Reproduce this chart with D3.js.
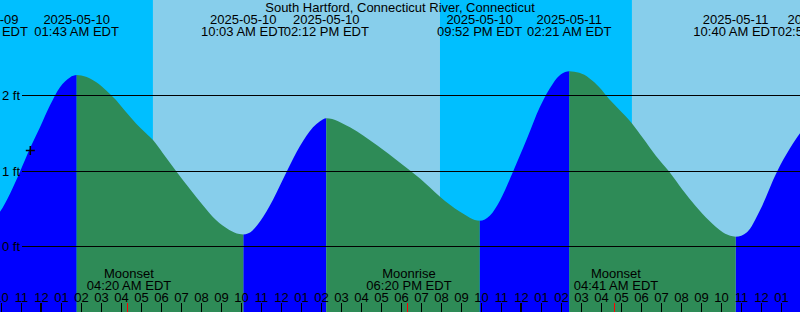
<!DOCTYPE html>
<html><head><meta charset="utf-8">
<script src="https://cdn.jsdelivr.net/npm/d3@7"></script>
<style>
html,body{margin:0;padding:0;background:#fff;overflow:hidden}
svg{display:block;font-family:"Liberation Sans",Arial,sans-serif}
</style>
</head><body><div id="chart"></div>
<script>
// ---------------- data ----------------
const title = "South Hartford, Connecticut River, Connecticut";
const baseTime = "2025-05-10 00:00";           // reference for sampleHours
const viewStartHours = -2.115, viewEndHours = 37.885;

const eventTimes   = ["2025-05-09 21:09","2025-05-10 01:43","2025-05-10 10:03","2025-05-10 14:12",
                      "2025-05-10 21:52","2025-05-11 02:21","2025-05-11 10:40","2025-05-11 14:54"];
const eventHeights = [0.30, 2.27, 0.16, 1.70, 0.34, 2.32, 0.13, 1.75];

// hours after 2025-05-10 00:00 EDT
const sampleHours   = [-2.115,-1.615,-1.115,-0.615,-0.115,0.385,0.885,1.385,
                       2.185,2.685,3.185,3.685,4.185,4.685,5.185,5.535,6.02,6.685,7.35,8.02,8.685,9.35,9.85,
                       10.5,10.885,11.535,12.235,12.885,13.535,13.885,
                       15.385,16.735,17.885,18.885,19.885,20.885,
                       22.385,22.885,23.535,24.235,24.885,25.535,25.935,
                       26.85,27.35,27.85,28.35,28.85,29.485,30.02,30.685,31.35,32.02,32.685,33.35,34.02,34.52,
                       35.235,35.885,36.735,37.385,37.885];
const sampleHeights = [0.46,0.70,0.99,1.30,1.58,1.87,2.11,2.24,
                       2.25,2.18,2.07,1.94,1.78,1.63,1.50,1.41,1.24,1.00,0.77,0.55,0.35,0.22,0.165,
                       0.21,0.33,0.62,1.00,1.33,1.58,1.66,
                       1.58,1.34,1.11,0.90,0.66,0.46,
                       0.41,0.61,0.99,1.43,1.85,2.16,2.28,
                       2.30,2.23,2.11,1.95,1.81,1.63,1.44,1.20,0.99,0.75,0.53,0.34,0.19,0.135,
                       0.19,0.48,0.99,1.30,1.50];

const sunTimes = ["2025-05-10 05:32","2025-05-10 19:53","2025-05-11 05:29"];
const sunTypes = ["rise","set","rise"];

const moonNames = ["Moonset","Moonrise","Moonset"];
const moonTimes = ["2025-05-10 04:20","2025-05-10 18:20","2025-05-11 04:41"];

const yTicks = [0, 1, 2];
const yTickUnit = "ft";
const tzLabel = "EDT";

const nowTime = "2025-05-09 23:24";
const nowHeight = 1.27;

// ---------------- chart ----------------
const W = 800, H = 312;
const parse = d3.utcParse("%Y-%m-%d %H:%M");
const HOUR = 3600e3;
const base = parse(baseTime);
const t0 = new Date(+base + viewStartHours*HOUR);
const t1 = new Date(+base + viewEndHours*HOUR);

const x = d3.scaleUtc().domain([t0, t1]).range([0, W]);
const y = d3.scaleLinear().domain([0, 2]).range([246.5, 95.5]);

const colors = {night:"#00BFFF", day:"#87CEEB", rise:"#0000FF", fall:"#2E8B57"};

const svg = d3.select("#chart").append("svg").attr("width", W).attr("height", H);

// sky background
const sun = sunTimes.map((s,i)=>({t:parse(s), type:sunTypes[i]}));
const bands = [];
let cur = t0, state = sun[0].type === "rise" ? "night" : "day";
sun.forEach(s => { bands.push({a:cur, b:s.t, kind:state}); cur = s.t; state = s.type==="rise" ? "day" : "night"; });
bands.push({a:cur, b:t1, kind:state});
svg.append("g").selectAll("rect").data(bands).join("rect")
  .attr("x", d=>x(d.a)).attr("y",0)
  .attr("width", d=>x(d.b)-x(d.a)).attr("height", H)
  .attr("fill", d=>colors[d.kind]);

// tide curve
const events = eventTimes.map((s,i)=>({t:parse(s), v:eventHeights[i]}));
const samples = sampleHours.map((h,i)=>({t:new Date(+base + h*HOUR), v:sampleHeights[i]}));
const pts = events.concat(samples).sort((a,b)=>a.t-b.t);

const area = d3.area().x(d=>x(d.t)).y0(H).y1(d=>y(d.v)).curve(d3.curveMonotoneX);

const defs = svg.append("defs");
["rise","fall"].forEach(kind=>{
  const cp = defs.append("clipPath").attr("id","clip-"+kind);
  for (let i=0;i<events.length-1;i++){
    const rising = events[i+1].v > events[i].v;
    if ((kind==="rise") === rising){
      cp.append("rect").attr("x", x(events[i].t)).attr("y",0)
        .attr("width", x(events[i+1].t)-x(events[i].t)).attr("height", H);
    }
  }
  svg.append("path").datum(pts).attr("d", area)
    .attr("fill", colors[kind]).attr("clip-path", `url(#clip-${kind})`);
});

// horizontal height lines + labels
const yg = svg.append("g");
yTicks.forEach(v=>{
  const yy = Math.floor(y(v)) + 0.5;
  yg.append("line").attr("x1",22).attr("x2",W).attr("y1",yy).attr("y2",yy)
    .attr("stroke","#000").attr("stroke-width",1);
  yg.append("text").attr("x",2).attr("y",yy+4).attr("font-size",13).attr("fill","#000")
    .text(`${v} ${yTickUnit}`);
});

// "now" marker
const nx = x(parse(nowTime)), ny = y(nowHeight);
svg.append("path").attr("d",`M${nx-4.5},${ny}H${nx+4.5}M${nx},${ny-4.5}V${ny+4.5}`)
  .attr("stroke","#000").attr("stroke-width",1.5).attr("fill","none");

// title
svg.append("text").attr("x",W/2).attr("y",11.5).attr("text-anchor","middle")
  .attr("font-size",13).attr("fill","#000").text(title);

// tide event labels
const fDate = d3.utcFormat("%Y-%m-%d"), fTime = d3.utcFormat("%I:%M %p");
const eg = svg.append("g").attr("font-size",13).attr("fill","#000").attr("text-anchor","middle");
events.forEach(e=>{
  const ex = x(e.t);
  eg.append("text").attr("x",ex).attr("y",23.5).text(fDate(e.t));
  eg.append("text").attr("x",ex).attr("y",36).text(`${fTime(e.t)} ${tzLabel}`);
});

// hour ticks
const hours = d3.utcHour.range(d3.utcHour.ceil(new Date(+t0 - HOUR)), t1);
const hg = svg.append("g");
hours.forEach(h=>{
  const hx = Math.floor(x(h)) - 0.5;
  hg.append("text").attr("x",hx).attr("y",302).attr("text-anchor","middle")
    .attr("font-size",13).attr("fill","#000").text(d3.utcFormat("%I")(h));
  if (h.getUTCHours()===0){
    hg.append("rect").attr("x",Math.floor(x(h))-2).attr("y",303).attr("width",2).attr("height",H-303).attr("fill","#000");
  } else {
    hg.append("line").attr("x1",hx).attr("x2",hx).attr("y1",303).attr("y2",H)
      .attr("stroke","#000").attr("stroke-width",1);
  }
});

// moon labels + red ticks
const mg = svg.append("g").attr("font-size",13).attr("fill","#000").attr("text-anchor","middle");
moonNames.forEach((n,i)=>{
  const t = parse(moonTimes[i]); const mx = x(t);
  mg.append("text").attr("x",mx).attr("y",278).text(n);
  mg.append("text").attr("x",mx).attr("y",289.5).text(`${fTime(t)} ${tzLabel}`);
  svg.append("line").attr("x1",Math.floor(mx)-0.5).attr("x2",Math.floor(mx)-0.5)
    .attr("y1",303).attr("y2",H).attr("stroke","#FF0000").attr("stroke-width",1);
});
</script>
</body></html>
